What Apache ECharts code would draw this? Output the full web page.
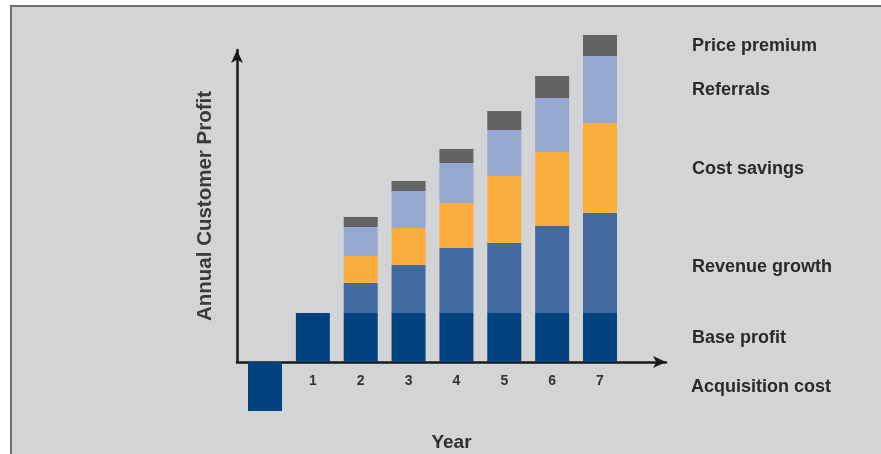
<!DOCTYPE html>
<html>
<head>
<meta charset="utf-8">
<title>Annual Customer Profit</title>
<script src="https://cdn.jsdelivr.net/npm/echarts@6/dist/echarts.min.js"></script>
<style>
  html, body { margin: 0; padding: 0; background: #ffffff; }
  #panel {
    position: absolute; left: 10px; top: 5px; right: 0; bottom: 0;
    background: #d3d4d6;
    border-top: 2px solid #707070;
    border-left: 2px solid #707070;
  }
  #chart { position: absolute; left: 0; top: 0; width: 881px; height: 454px; }
</style>
</head>
<body>
<div id="panel"></div>
<div id="chart"></div>
<script>
// Year 0 is the acquisition year; years 1..7 carry the profit build-up.
const years = [0, 1, 2, 3, 4, 5, 6, 7];
const tickLabels = ['1', '2', '3', '4', '5', '6', '7'];

// Profit components per year (relative profit units)
const acquisitionCost = [-49, null, null, null, null, null, null, null];
const baseProfit      = [null, 49, 49, 49, 49, 49, 49, 49];
const revenueGrowth   = [null, null, 30, 48, 65, 70, 87, 100];
const costSavings     = [null, null, 27, 37, 45, 67, 74, 90];
const referrals       = [null, null, 29, 37, 40, 46, 54, 67];
const pricePremium    = [null, null, 10, 10, 14, 19, 22, 21];

const seriesNames = ['Acquisition cost', 'Base profit', 'Revenue growth', 'Cost savings', 'Referrals', 'Price premium'];
const seriesValues = [acquisitionCost, baseProfit, revenueGrowth, costSavings, referrals, pricePremium];
const seriesColors = ['#02427f', '#02427f', '#436ba2', '#fbae3e', '#97a8d0', '#636365'];

const labelFont = {
  fontFamily: '"Liberation Sans", Arial, sans-serif',
  fontWeight: 'bold',
  fontSize: 18,
  color: '#2a2a2a'
};

// Rows are [profit, year]: the profit column comes first so it is the one stacked.
function rows(values) {
  return years.map((y, i) => [values[i] == null ? '-' : values[i], y]);
}

const series = seriesNames.map((name, k) => {
  const isAcq = k === 0;
  const labelYear = isAcq ? 0 : 7;
  return {
    name: name,
    type: 'bar',
    stack: 'profit',
    barWidth: 34,
    clip: false,
    encode: { x: 1, y: 0 },
    data: rows(seriesValues[k]),
    itemStyle: { color: seriesColors[k] },
    label: Object.assign({
      show: true,
      position: 'right',
      distance: isAcq ? 409 : 75,
      offset: name === 'Revenue growth' ? [0, 4] : [0, 1],
      formatter: p => (p.data[1] === labelYear ? name : '')
    }, labelFont)
  };
});

const chart = echarts.init(document.getElementById('chart'), null, { renderer: 'canvas' });
chart.setOption({
  animation: false,
  backgroundColor: 'transparent',
  grid: { left: 237, right: 215, top: 50, bottom: 92, containLabel: false, outerBoundsMode: 'none' },
  xAxis: {
    type: 'value',
    min: -0.585,
    max: 8.379,
    splitNumber: 9,
    minInterval: 1,
    maxInterval: 1,
    name: 'Year',
    nameLocation: 'middle',
    nameGap: 71,
    nameTextStyle: {
      fontFamily: '"Liberation Sans", Arial, sans-serif',
      fontWeight: 'bold', fontSize: 19, color: '#2f2f2f'
    },
    axisLine: {
      show: true,
      onZero: true,
      symbol: ['none', 'arrow'],
      symbolSize: [9, 13],
      lineStyle: { color: '#1a1a1a', width: 2.5 }
    },
    axisTick: { show: false },
    splitLine: { show: false },
    axisLabel: {
      margin: 12,
      fontFamily: '"Liberation Sans", Arial, sans-serif',
      fontWeight: 'bold', fontSize: 14, color: '#333333',
      formatter: v => (tickLabels.indexOf(String(v)) >= 0 ? String(v) : '')
    }
  },
  yAxis: {
    type: 'value',
    min: 0,
    max: 312,
    name: 'Annual Customer Profit',
    nameLocation: 'middle',
    nameGap: 21,
    nameRotate: 90,
    nameTextStyle: {
      fontFamily: '"Liberation Sans", Arial, sans-serif',
      fontWeight: 'bold', fontSize: 20.5, color: '#3a3a3a'
    },
    axisLine: {
      show: true,
      onZero: false,
      symbol: ['none', 'arrow'],
      symbolSize: [9, 13],
      lineStyle: { color: '#1a1a1a', width: 2.5 }
    },
    axisTick: { show: false },
    axisLabel: { show: false },
    splitLine: { show: false }
  },
  series: series
});
</script>
</body>
</html>
